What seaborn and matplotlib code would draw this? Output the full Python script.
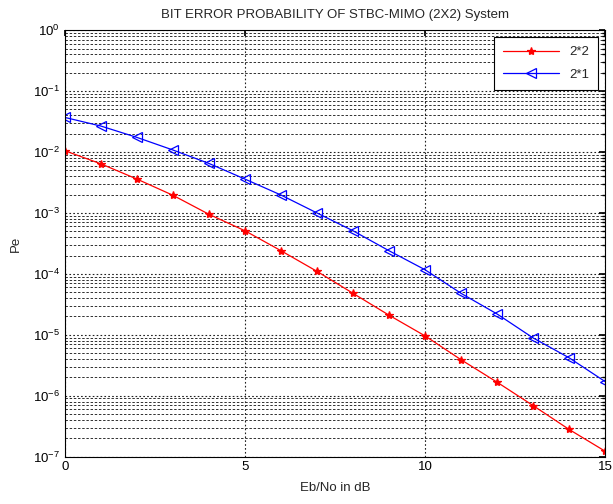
import numpy as np
import pandas as pd
import matplotlib
matplotlib.use('Agg')
import matplotlib.pyplot as plt
import seaborn as sns
from matplotlib.ticker import FixedLocator, LogFormatterMathtext

# Dados (Eb/No em dB e probabilidade de erro)
ebno_db = [0, 1, 2, 3, 4, 5, 6, 7, 8, 9, 10, 11, 12, 13, 14, 15]
pe_2x2 = [1.05e-2, 6.4e-3, 3.6e-3, 1.95e-3, 9.5e-4, 5.1e-4, 2.4e-4, 1.1e-4,
          4.8e-5, 2.1e-5, 9.6e-6, 3.9e-6, 1.67e-6, 6.9e-7, 2.8e-7, 1.23e-7]
pe_2x1 = [3.7e-2, 2.67e-2, 1.74e-2, 1.08e-2, 6.5e-3, 3.6e-3, 1.97e-3, 1.0e-3,
          5.1e-4, 2.4e-4, 1.17e-4, 4.8e-5, 2.2e-5, 8.9e-6, 4.2e-6, 1.71e-6]
series_labels = ['2*2', '2*1']
x_ticks = [0, 5, 10, 15]
y_decadas = [-7, -6, -5, -4, -3, -2, -1, 0]

df = pd.DataFrame({
    'EbNo': ebno_db * 2,
    'Pe': pe_2x2 + pe_2x1,
    'Sistema': [series_labels[0]] * len(ebno_db) + [series_labels[1]] * len(ebno_db),
})

sns.set_theme(style='white')
plt.rcParams['font.family'] = ['Liberation Sans', 'DejaVu Sans']
plt.rcParams['font.size'] = 9.5
plt.rcParams['mathtext.fontset'] = 'custom'
plt.rcParams['mathtext.rm'] = 'Liberation Sans'

fig = plt.figure(figsize=(6.13, 5.04), dpi=100)
ax = fig.add_axes([0.106, 0.094, 0.881, 0.846])

# estilos de cada curva
estilos = {
    '2*2': dict(color='#ff0000', marker='*', markersize=6, mfc='#ff0000', mec='#ff0000'),
    '2*1': dict(color='#0000ff', marker='<', markersize=7, mfc='none', mec='#0000ff'),
}
for nome in series_labels:
    sub = df[df['Sistema'] == nome]
    sns.lineplot(data=sub, x='EbNo', y='Pe', ax=ax, label=nome,
                 linewidth=0.9, markeredgewidth=0.9, **estilos[nome])

ax.set_yscale('log')
ax.set_xlim(0, 15)
ax.set_ylim(1e-7, 1)
ax.xaxis.set_major_locator(FixedLocator(x_ticks))
major_y = [10.0 ** d for d in y_decadas]
minor_y = [m * 10.0 ** d for d in y_decadas[:-1] for m in range(2, 10)]
ax.yaxis.set_major_locator(FixedLocator(major_y))
ax.yaxis.set_major_formatter(LogFormatterMathtext())
ax.yaxis.set_minor_locator(FixedLocator(minor_y))

# grade estilo MATLAB
ax.grid(True, which='major', axis='both', color='#202020', linestyle=(0, (1.5, 2)), linewidth=0.8)
ax.grid(True, which='minor', axis='y', color='#303030', linestyle=(0, (2.5, 1.8)), linewidth=0.7)

ax.tick_params(which='both', direction='in', top=True, right=True, colors='black',
               labelsize=9.5, length=4)
ax.tick_params(which='minor', length=2)
for s in ax.spines.values():
    s.set_color('black')
    s.set_linewidth(0.8)

ax.set_title('BIT ERROR PROBABILITY OF STBC-MIMO (2X2) System', fontsize=9.5, pad=9)
ax.set_xlabel('Eb/No in dB', fontsize=9.5, labelpad=6)
ax.set_ylabel('Pe', fontsize=9.5, labelpad=8)

leg = ax.legend(loc='upper right', fontsize=9.5, frameon=True, fancybox=False,
                framealpha=1, edgecolor='black', borderaxespad=0.5, handlelength=4.2,
                borderpad=0.7, labelspacing=0.8)
leg.get_frame().set_linewidth(0.8)

plt.savefig('out.png', dpi=100)
